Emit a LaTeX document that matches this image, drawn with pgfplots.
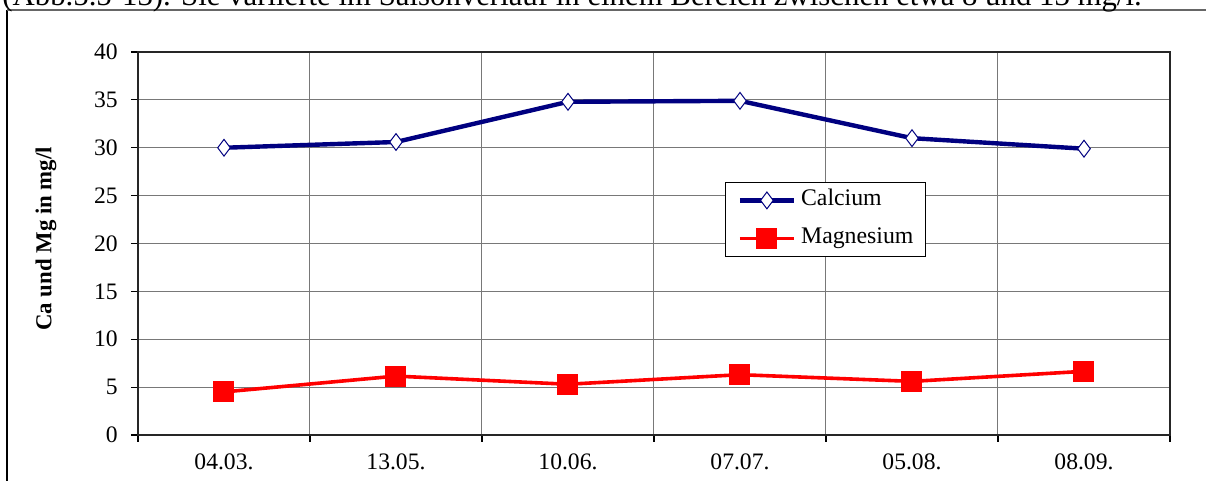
\documentclass[border=0pt]{standalone}
\usepackage{fontspec}
\setmainfont{Liberation Serif}
\usepackage{pgfplots}
\pgfplotsset{compat=1.18}
\definecolor{canavy}{RGB}{0,0,128}
\definecolor{gridgray}{RGB}{120,120,120}
\begin{document}
\begin{tikzpicture}[x=0.5pt,y=0.5pt]
\useasboundingbox (0,0) rectangle (1206,481);
\clip (0,0) rectangle (1206,481);
% outer frame
\draw[black, line width=0.6pt] (7,-20) -- (7,471);
\draw[gray!80!black, line width=0.7pt] (7,471) -- (1230,471);
% cropped text line above
\node[anchor=base west, inner sep=0pt, font=\fontsize{15.4}{18}\selectfont] at (2,475)
  {(Abb.5.5-13). Sie variierte im Saisonverlauf in einem Bereich zwischen etwa 8 und 13 mg/l.};
\begin{axis}[
  at={(69pt,23pt)}, anchor=south west,
  scale only axis, width=516pt, height=191.5pt,
  xmin=-0.5, xmax=5.5, ymin=0, ymax=40,
  xtick={-0.5,0.5,1.5,2.5,3.5,4.5,5.5},
  x tick label as interval,
  xticklabels={04.03.,13.05.,10.06.,07.07.,05.08.,08.09.},
  ytick={0,5,...,40},
  tick pos=left, tick align=outside,
  major tick length=3.5pt,
  tick style={black, line width=0.6pt},
  grid=major,
  major grid style={gridgray, line width=0.5pt},
  axis line style={black!85, line width=0.7pt},
  /pgf/number format/assume math mode=true,
  tick label style={font=\fontsize{11.8}{14}\selectfont},
  xticklabel style={yshift=-2.6pt},
  yticklabel style={xshift=-3.1pt},
  ylabel={\textbf{Ca und Mg in mg/l}},
  ylabel style={at={(rel axis cs:-0.0891,0.512)}, anchor=center, rotate=0, font=\fontsize{11.4}{13}\selectfont},
  legend cell align=left,
  legend style={at={(0.569,0.66)}, anchor=north west, draw=black, line width=0.5pt,
    font=\fontsize{11.9}{14}\selectfont, inner xsep=6pt, inner ysep=3.6pt,
    row sep=8.5pt, column sep=2.5pt,
    nodes={inner sep=0pt, text height=8pt, text depth=2.5pt}},
  legend image code/.code={
    \draw[mark repeat=2,mark phase=2] plot coordinates {(0pt,0pt)(13.5pt,0pt)(27pt,0pt)};
  },
  clip=false,
]
\addplot[canavy, line width=2.2pt, mark=diamond*, mark size=4.2pt,
  mark options={fill=white, draw=canavy, line width=0.5pt}]
  coordinates {(0,30.0) (1,30.6) (2,34.8) (3,34.9) (4,31.0) (5,29.9)};
\addlegendentry{Calcium}
\addplot[red, line width=1.8pt, mark=square*, mark size=5pt,
  mark options={fill=red, draw=red, line width=0pt}]
  coordinates {(0,4.5) (1,6.15) (2,5.3) (3,6.3) (4,5.6) (5,6.65)};
\addlegendentry{Magnesium}
\end{axis}
\end{tikzpicture}
\end{document}
